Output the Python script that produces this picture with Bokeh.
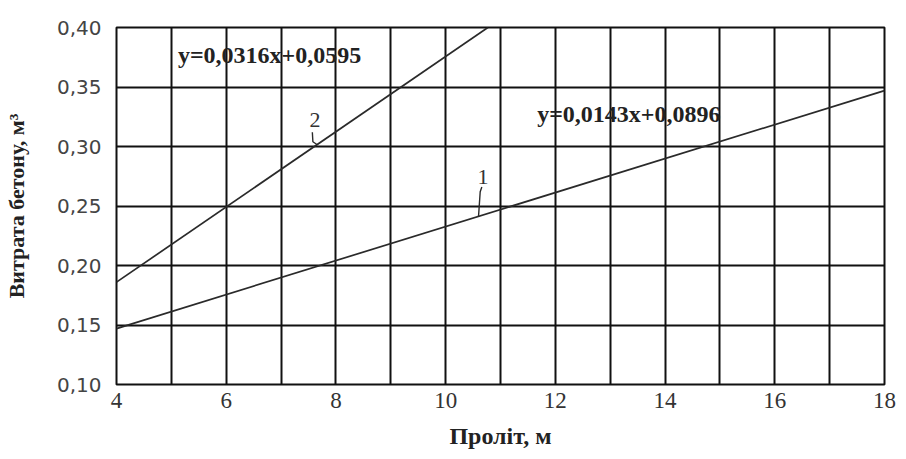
from bokeh.plotting import figure
from bokeh.models import FixedTicker, Range1d
from bokeh.core.properties import value
from bokeh.embed import file_html
from bokeh.resources import INLINE

# ---- data ----
x_ticks = [4, 6, 8, 10, 12, 14, 16, 18]
x_grid = [4, 5, 6, 7, 8, 9, 10, 11, 12, 13, 14, 15, 16, 17, 18]
y_ticks = [0.10, 0.15, 0.20, 0.25, 0.30, 0.35, 0.40]
y_tick_labels = ["0,10", "0,15", "0,20", "0,25", "0,30", "0,35", "0,40"]

line1_x = [4, 18]
line1_y = [0.147, 0.347]
line2_x = [4, 10.77]
line2_y = [0.186, 0.400]

eq_text = ["y=0,0316x+0,0595", "y=0,0143x+0,0896"]
eq_x = [6.79, 13.34]
eq_y = [0.3765, 0.3277]

num_text = ["2", "1"]
num_x = [7.62, 10.68]
num_y = [0.322, 0.274]
lead2_x = [7.57, 7.58, 7.66]
lead2_y = [0.312, 0.304, 0.3015]
lead1_x = [10.66, 10.63, 10.60]
lead1_y = [0.266, 0.262, 0.2415]

SERIF = "Liberation Serif"

p = figure(frame_width=768, frame_height=357,
           x_range=Range1d(4, 18), y_range=Range1d(0.10, 0.40),
           output_backend="svg", toolbar_location=None,
           min_border_left=114, min_border_right=16,
           min_border_top=27, min_border_bottom=67)
p.background_fill_color = "white"
p.border_fill_color = "white"
p.outline_line_color = "#111111"
p.outline_line_width = 2

# grid
p.xgrid.ticker = FixedTicker(ticks=x_grid)
p.ygrid.ticker = FixedTicker(ticks=y_ticks)
for g in (p.xgrid, p.ygrid):
    g.grid_line_color = "#111111"
    g.grid_line_width = 2
    g.grid_line_alpha = 1.0

# axes
p.xaxis.ticker = FixedTicker(ticks=x_ticks)
p.yaxis.ticker = FixedTicker(ticks=y_ticks)
p.yaxis.major_label_overrides = {t: l for t, l in zip(y_ticks, y_tick_labels)}
for ax in (p.xaxis, p.yaxis):
    ax.axis_line_color = None
    ax.major_tick_line_color = None
    ax.minor_tick_line_color = None
    ax.major_tick_out = 0
    ax.major_tick_in = 0
    ax.axis_label_text_font = SERIF
    ax.axis_label_text_font_style = "bold"
    ax.axis_label_text_color = "#222222"

p.xaxis.major_label_text_font = SERIF
p.xaxis.major_label_text_font_size = "23px"
p.xaxis.major_label_text_color = "#333333"
p.xaxis.major_label_standoff = 8
p.xaxis.axis_label = "Проліт, м"
p.xaxis.axis_label_text_font_size = "24px"
p.xaxis.axis_label_standoff = 12

p.yaxis.major_label_text_font = "DejaVu Sans"
p.yaxis.major_label_text_font_size = "20px"
p.yaxis.major_label_text_color = "#444444"
p.yaxis.major_label_standoff = 15
p.yaxis.axis_label = "Витрата бетону, м³"
p.yaxis.axis_label_text_font_size = "22px"
p.yaxis.axis_label_standoff = 25

# lines
p.line(line1_x, line1_y, line_color="#2a2a2a", line_width=1.7)
p.line(line2_x, line2_y, line_color="#2a2a2a", line_width=1.7)
p.line(lead2_x, lead2_y, line_color="#2a2a2a", line_width=1.4)
p.line(lead1_x, lead1_y, line_color="#2a2a2a", line_width=1.4)

# equations and curve numbers
p.text(x=eq_x, y=eq_y, text=eq_text, text_font=value(SERIF),
       text_font_style="bold", text_font_size="24px", text_color="#222222",
       text_align="center", text_baseline="middle")
p.text(x=num_x, y=num_y, text=num_text, text_font=value(SERIF),
       text_font_size="22px", text_color="#333333",
       text_align="center", text_baseline="middle")

open("out.html", "w").write(file_html(p, INLINE))
